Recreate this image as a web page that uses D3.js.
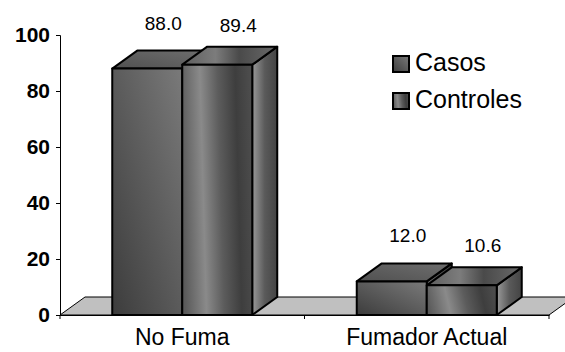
<!DOCTYPE html>
<html>
<head>
<meta charset="utf-8">
<script src="https://cdn.jsdelivr.net/npm/d3@7"></script>
<style>
  html, body { margin: 0; padding: 0; background: #fff; }
  svg { display: block; font-family: Arial, "Liberation Sans", sans-serif; }
</style>
</head>
<body>
<svg id="chart" width="565" height="352"></svg>
<script>
// Smoking status, percentage of cases and controls
const categories = ["No Fuma", "Fumador Actual"];
const seriesNames = ["Casos", "Controles"];
const casos = [88.0, 12.0];
const controles = [89.4, 10.6];
const yTicks = [0, 20, 40, 60, 80, 100];

const seriesValues = [casos, controles];

const svg = d3.select("#chart");
const plotLeft = 60, plotRight = 549, plotTop = 35, plotBottom = 315;
const depthX = 25, depthY = 18;   // oblique 3D depth of bars and floor

const x0 = d3.scaleBand().domain(categories).range([plotLeft, plotRight]).padding(0);
const x1 = d3.scaleBand().domain(seriesNames)
  .range([x0.bandwidth() * 0.2137, x0.bandwidth() * 0.7863]).padding(0);
const y = d3.scaleLinear().domain([0, 100]).range([plotBottom, plotTop]);

// Gradients
const defs = svg.append("defs");
function lin(id, attrs, stops) {
  const g = defs.append("linearGradient").attr("id", id);
  Object.entries(attrs).forEach(([k, v]) => g.attr(k, v));
  stops.forEach(([o, c]) => g.append("stop").attr("offset", o).attr("stop-color", c));
}
// Casos: smooth diagonal, darker at bottom-left
lin("casosFront", {x1: 0, y1: 1, x2: 1, y2: 0}, [[0, "#3c3c3c"], [1, "#7a7a7a"]]);
lin("casosTop", {x1: 0, y1: 1, x2: 1, y2: 0}, [[0, "#505050"], [1, "#6e6e6e"]]);
// Controles: diagonal sheen
lin("ctrlFront", {x1: 0, y1: 0.55, x2: 1, y2: 0.45},
  [[0, "#5a5a5a"], [0.3, "#8a8a8a"], [0.55, "#5c5c5c"], [0.8, "#3e3e3e"], [1, "#4c4c4c"]]);
lin("ctrlTop", {x1: 0, y1: 0, x2: 1, y2: 0},
  [[0, "#5e5e5e"], [0.35, "#7c7c7c"], [0.6, "#4a4a4a"], [1, "#6a6a6a"]]);
lin("ctrlSide", {x1: 0, y1: 0, x2: 1, y2: 0},
  [[0, "#9a9a9a"], [0.5, "#5a5a5a"], [1, "#444444"]]);
lin("casosSide", {x1: 0, y1: 0, x2: 1, y2: 0},
  [[0, "#6a6a6a"], [1, "#3c3c3c"]]);

const fills = {
  Casos: {front: "url(#casosFront)", top: "url(#casosTop)", side: "url(#casosSide)"},
  Controles: {front: "url(#ctrlFront)", top: "url(#ctrlTop)", side: "url(#ctrlSide)"}
};

// Floor
const floorPts = [[plotLeft, plotBottom], [plotRight, plotBottom],
  [plotRight + depthX, plotBottom - depthY], [plotLeft + depthX, plotBottom - depthY]];
svg.append("polygon")
  .attr("points", floorPts.map(p => p.join(",")).join(" "))
  .attr("fill", "#c0c0c0").attr("stroke", "#000").attr("stroke-width", 1);

// Axes
const yAxis = svg.append("g").attr("transform", `translate(${plotLeft},0)`)
  .call(d3.axisLeft(y).tickValues(yTicks).tickSize(4).tickPadding(6).tickFormat(d3.format("d")));
yAxis.select(".domain").attr("stroke", "#000").attr("stroke-width", 1);
yAxis.selectAll("text").attr("font-size", 21).attr("font-weight", "bold").attr("fill", "#000");

const xAxis = svg.append("g").attr("transform", `translate(0,${plotBottom})`)
  .call(d3.axisBottom(x0).tickSize(0).tickPadding(10));
xAxis.select(".domain").attr("stroke", "#000").attr("stroke-width", 1);
xAxis.selectAll("text").attr("font-size", 23).attr("fill", "#000").attr("dy", "0.85em");
// category boundary ticks
const bounds = [plotLeft].concat(categories.map(c => x0(c) + x0.bandwidth()));
svg.append("g").selectAll("line").data(bounds).join("line")
  .attr("x1", d => d).attr("x2", d => d)
  .attr("y1", plotBottom).attr("y2", plotBottom + 4)
  .attr("stroke", "#000");

// Bars (drawn left to right so later boxes overlap earlier ones)
const bars = [];
categories.forEach((c, ci) => {
  seriesNames.forEach((s, si) => {
    bars.push({cat: c, series: s, value: seriesValues[si][ci]});
  });
});

const barG = svg.append("g");
bars.forEach(d => {
  const xa = x0(d.cat) + x1(d.series);
  const xb = xa + x1.bandwidth();
  const yt = y(d.value), yb = y(0);
  const g = barG.append("g");
  const poly = (pts, fill) => g.append("polygon")
    .attr("points", pts.map(p => p.join(",")).join(" "))
    .attr("fill", fill).attr("stroke", "#000").attr("stroke-width", 2)
    .attr("stroke-linejoin", "round");
  poly([[xb, yb], [xb + depthX, yb - depthY], [xb + depthX, yt - depthY], [xb, yt]], fills[d.series].side);
  poly([[xa, yt], [xa + depthX, yt - depthY], [xb + depthX, yt - depthY], [xb, yt]], fills[d.series].top);
  poly([[xa, yb], [xa, yt], [xb, yt], [xb, yb]], fills[d.series].front);
});

// Value labels
const labelOffset = {Casos: {dx: 16, dy: 39}, Controles: {dx: 21, dy: 33}};
svg.append("g").selectAll("text").data(bars).join("text")
  .attr("x", d => x0(d.cat) + x1(d.series) + x1.bandwidth() / 2 + labelOffset[d.series].dx)
  .attr("y", d => y(d.value) - labelOffset[d.series].dy)
  .attr("text-anchor", "middle")
  .attr("font-size", 19)
  .attr("fill", "#000")
  .text(d => d3.format(".1f")(d.value));

// Legend
const legend = svg.append("g").attr("transform", "translate(392,55)");
seriesNames.forEach((s, i) => {
  const g = legend.append("g").attr("transform", `translate(0,${i * 37})`);
  g.append("rect").attr("x", 1).attr("y", 1).attr("width", 16).attr("height", 16)
    .attr("fill", fills[s].front).attr("stroke", "#000").attr("stroke-width", 2);
  g.append("text").attr("x", 23).attr("y", 16)
    .attr("font-size", 25).attr("fill", "#000").text(s);
});
</script>
</body>
</html>
